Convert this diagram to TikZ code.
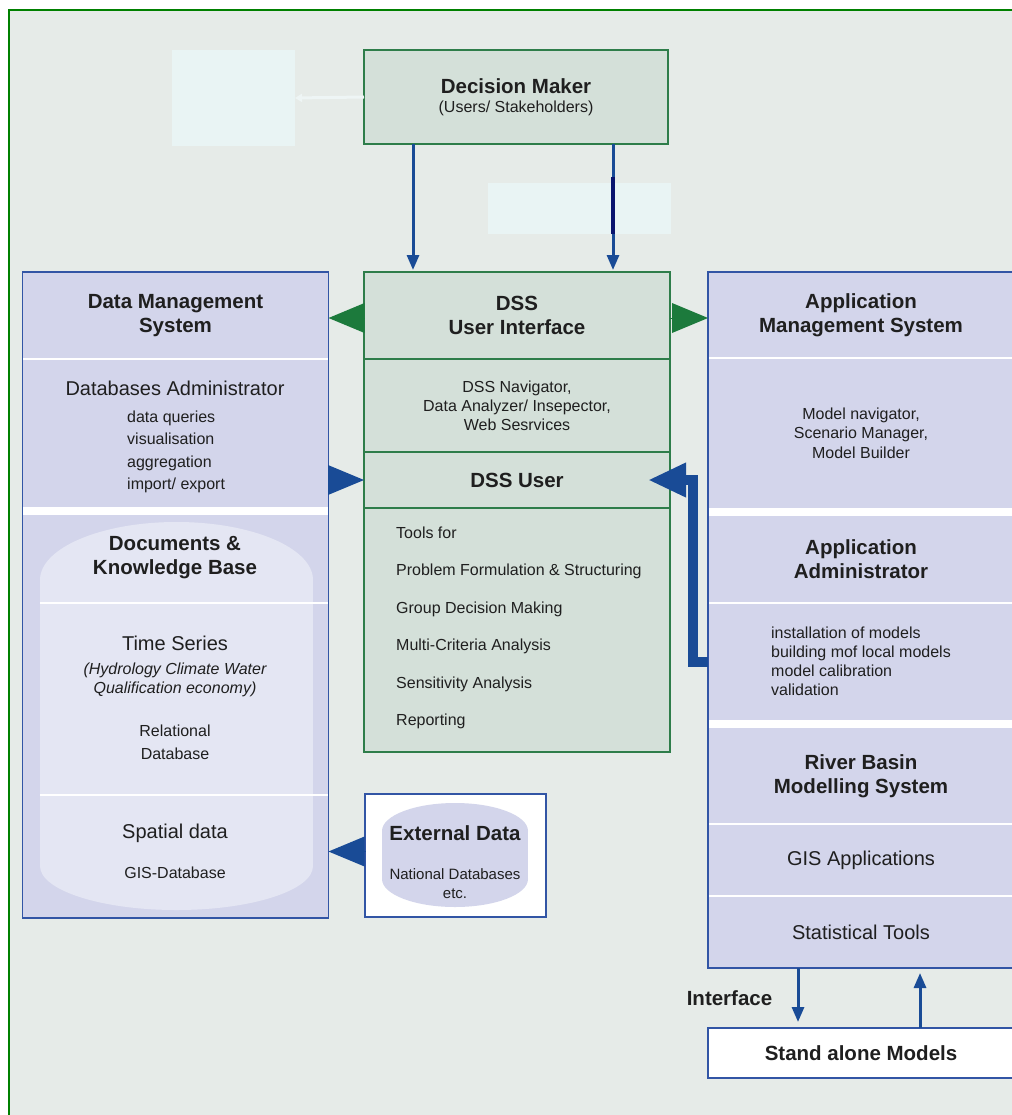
\documentclass[tikz,border=0pt]{standalone}
\usepackage{fontspec}
\setmainfont{Liberation Sans}
\usetikzlibrary{positioning,arrows.meta}

\definecolor{bgcol}{RGB}{230,235,232}
\definecolor{framecol}{RGB}{0,128,0}
\definecolor{dssfill}{RGB}{212,224,217}
\definecolor{dssline}{RGB}{46,125,74}
\definecolor{trigreen}{RGB}{28,122,60}
\definecolor{lavfill}{RGB}{211,213,235}
\definecolor{lavlight}{RGB}{228,230,243}
\definecolor{blueline}{RGB}{50,85,165}
\definecolor{bluearr}{RGB}{25,75,150}
\definecolor{faint}{RGB}{233,244,244}
\definecolor{faintarr}{RGB}{238,245,245}
\definecolor{navyseg}{RGB}{10,20,110}

\newcommand\hdfont{\fontsize{20.5}{24}\selectfont\bfseries}
\newcommand\rgfont{\fontsize{20}{24}\selectfont}
\newcommand\smfont{\fontsize{16}{19}\selectfont}

\begin{document}
\begin{tikzpicture}[
        x=1pt, y=-1pt, % координаты в пикселях
        dss/.style={draw=dssline, line width=1.5pt, fill=dssfill, minimum width=306pt,
            inner sep=0pt, outer sep=0pt, align=center, text=black!88},
        dmsec/.style={fill=lavfill, minimum width=306pt, inner sep=0pt, outer sep=0pt,
            align=center, text=black!88},
        whitebox/.style={draw=blueline, line width=1.5pt, fill=white, inner sep=0pt,
            outer sep=0pt, align=center, text=black!88},
        ghost/.style={fill=faint, inner sep=0pt, outer sep=0pt},
        sep/.style={white, line width=1.5pt},
        border/.style={draw=blueline, line width=1.5pt},
        arr/.style={bluearr, line width=3pt, -{Triangle[length=15pt,width=12pt]}},
        fat/.style={bluearr, line width=10pt, -{Triangle[length=38pt,width=32pt]}},
        tri/.style={line width=0pt, -{Triangle[length=36pt,width=30pt]}},
        txt/.style={inner sep=0pt, text=black!88},
    ]

    % фон и рамка
    \useasboundingbox (0,0) rectangle (1011,1115);
    \fill[white] (0,0) rectangle (1011,1115);
    \fill[bgcol] (9,10) rectangle (1040,1140);
    \draw[framecol, line width=2pt] (9,10) rectangle (1040,1140);

    % Decision Maker
    \node[ghost, minimum width=123pt, minimum height=96pt, anchor=north west] (ghostl) at (172,50) {};
    \node[dss, minimum width=304pt, minimum height=94pt, anchor=north west, font=\smfont] (dm) at (364,50)
        {{\hdfont Decision Maker}\\(Users/ Stakeholders)};
    \draw[faintarr, line width=3pt, -{Triangle[length=7pt,width=8pt]}] (dm.west) -- (ghostl.east);
    \node[ghost, minimum width=183pt, minimum height=51pt, anchor=north west] (ghostr) at (488,183) {};

    % DSS
    \node[dss, minimum height=87pt, anchor=north west, font=\hdfont] (dssui) at (364,272) {DSS\\User Interface};
    \node[dss, minimum height=93pt, below=0pt of dssui, font=\smfont] (dssnav)
        {DSS Navigator,\\Data Analyzer/ Insepector,\\Web Sesrvices};
    \node[dss, minimum height=56pt, below=0pt of dssnav, font=\hdfont] (dssuser) {DSS User};
    \node[dss, minimum height=244pt, below=0pt of dssuser] (dsstools) {};
    \node[txt, anchor=west, align=left, font=\fontsize{16}{37.5}\selectfont] (toolsfor) at (396,628)
        {Tools for\\Problem Formulation \& Structuring\\Group Decision Making\\Multi-Criteria Analysis\\Sensitivity Analysis\\Reporting};

    \coordinate (dmL) at ([xshift=49pt]dm.south west);
    \coordinate (dmR) at ([xshift=-55pt]dm.south east);
    \draw[arr, shorten >=2pt] (dmL) -- (dmL |- dssui.north);
    \draw[arr, shorten >=2pt] (dmR) -- (dmR |- dssui.north);
    \draw[navyseg, line width=4pt, shorten <=-6pt] (dmR |- ghostr.north) -- (dmR |- ghostr.south);

    % Data Management System
    \node[dmsec, minimum height=87pt, anchor=north west, font=\hdfont] (dmshead) at (22.5,272) {Data Management\\System};
    \node[dmsec, minimum height=148pt, below=0pt of dmshead] (dmsadmin) {};
    \node[dmsec, minimum height=403pt, below=8pt of dmsadmin] (dmsdocs) {};
    \fill[white] (dmsadmin.south west) rectangle (dmsdocs.north east);
    \draw[sep] (dmshead.south west) -- (dmshead.south east);
    \fill[lavlight] (40,580) rectangle (313,866);
    \fill[lavlight] (176.5,580) ellipse [x radius=136.5, y radius=58];
    \fill[lavlight] (176.5,866) ellipse [x radius=136.5, y radius=44];
    \draw[sep] (40,603) -- (dmsdocs.east |- 0,603);
    \draw[sep] (40,795) -- (dmsdocs.east |- 0,795);
    \draw[border] (dmshead.north west) rectangle (dmsdocs.south east);

    \node[txt, font=\rgfont] (dbadmin) at (175,388) {Databases Administrator};
    \node[txt, anchor=west, align=left, font=\fontsize{16}{22.3}\selectfont] (dbtasks) at (127,452)
        {data queries\\visualisation\\aggregation\\import/ export};
    \node[txt, font=\hdfont, align=center] (docs) at (175,558) {Documents \&\\Knowledge Base};
    \node[txt, font=\rgfont] (tseries) at (175,643) {Time Series};
    \node[txt, font=\smfont\itshape, align=center] (tsinfo) at (175,680) {(Hydrology Climate Water\\Qualification economy)};
    \node[txt, font=\fontsize{16}{23}\selectfont, align=center] (reldb) at (175,742.5) {Relational\\Database};
    \node[txt, font=\rgfont] (spatial) at (175,833) {Spatial data};
    \node[txt, font=\smfont] (gisdb) at (175,873) {GIS-Database};

    % External Data
    \node[whitebox, minimum width=181pt, minimum height=123pt, anchor=north west] (ext) at (365,794) {};
    \fill[lavfill] (382,831) rectangle (528,879);
    \fill[lavfill] (455,831) ellipse [x radius=73, y radius=28];
    \fill[lavfill] (455,879) ellipse [x radius=73, y radius=28];
    \node[txt, font=\hdfont] (extdata) at (455,833) {External Data};
    \node[txt, font=\fontsize{15}{19}\selectfont, align=center] (natdb) at (455,883.5) {National Databases\\etc.};

    % Application Management System
    \node[dmsec, minimum height=86pt, anchor=north west, font=\hdfont] (amshead) at (708,272) {Application\\Management System};
    \node[dmsec, minimum height=150pt, below=0pt of amshead, font=\fontsize{16}{19.5}\selectfont] (amsnav)
        {Model navigator,\\Scenario Manager,\\Model Builder};
    \node[dmsec, minimum height=87pt, below=8pt of amsnav, font=\hdfont] (amsadmin) {Application\\Administrator};
    \node[dmsec, minimum height=117pt, below=0pt of amsadmin, font=\smfont, align=left] (amsinst)
        {installation of models\\building mof local models\\model calibration\\validation};
    \node[dmsec, minimum height=96pt, below=8pt of amsinst, font=\hdfont] (amsrb) {River Basin\\Modelling System};
    \node[dmsec, minimum height=72pt, below=0pt of amsrb, font=\rgfont] (amsgis) {GIS Applications};
    \node[dmsec, minimum height=72pt, below=0pt of amsgis, font=\rgfont] (amsstat) {Statistical Tools};
    \fill[white] (amsnav.south west) rectangle (amsadmin.north east);
    \fill[white] (amsinst.south west) rectangle (amsrb.north east);
    \foreach \s in {amshead, amsadmin, amsrb, amsgis}
        \draw[sep] (\s.south west) -- (\s.south east);
    \draw[border] (amshead.north west) rectangle (amsstat.south east);

    % Stand alone Models
    \node[whitebox, minimum width=306pt, minimum height=50pt, anchor=north west, font=\hdfont] (sam) at (708,1028) {Stand alone Models};
    \node[txt, font=\hdfont] (iface) at (729.5,998) {Interface};
    \coordinate (down) at ([xshift=90pt]amsstat.south west);
    \coordinate (up) at ([xshift=212pt]sam.north west);
    \draw[arr, shorten >=6pt] (down) -- (down |- sam.north);
    \draw[arr, shorten >=5pt] (up) -- (up |- amsstat.south);

    % треугольники между блоками
    \coordinate (uiL) at ([yshift=-2.5pt]dssui.west);
    \coordinate (uiR) at ([yshift=-2.5pt]dssui.east);
    \draw[tri, trigreen] (uiL) -- (uiL -| dmshead.east);
    \draw[tri, trigreen] (uiR) -- (uiR -| amshead.west);
    \draw[tri, bluearr] (dssuser.west -| dmsadmin.east) -- (dssuser.west);
    \coordinate (extL) at ([yshift=4pt]ext.west);
    \draw[tri, bluearr] (extL) -- (extL -| dmsdocs.east);

    % толстая стрелка
    \draw[fat] (amsinst.west) -- ++(-15,0) |- ([xshift=-22pt]dssuser.east);
\end{tikzpicture}
\end{document}
